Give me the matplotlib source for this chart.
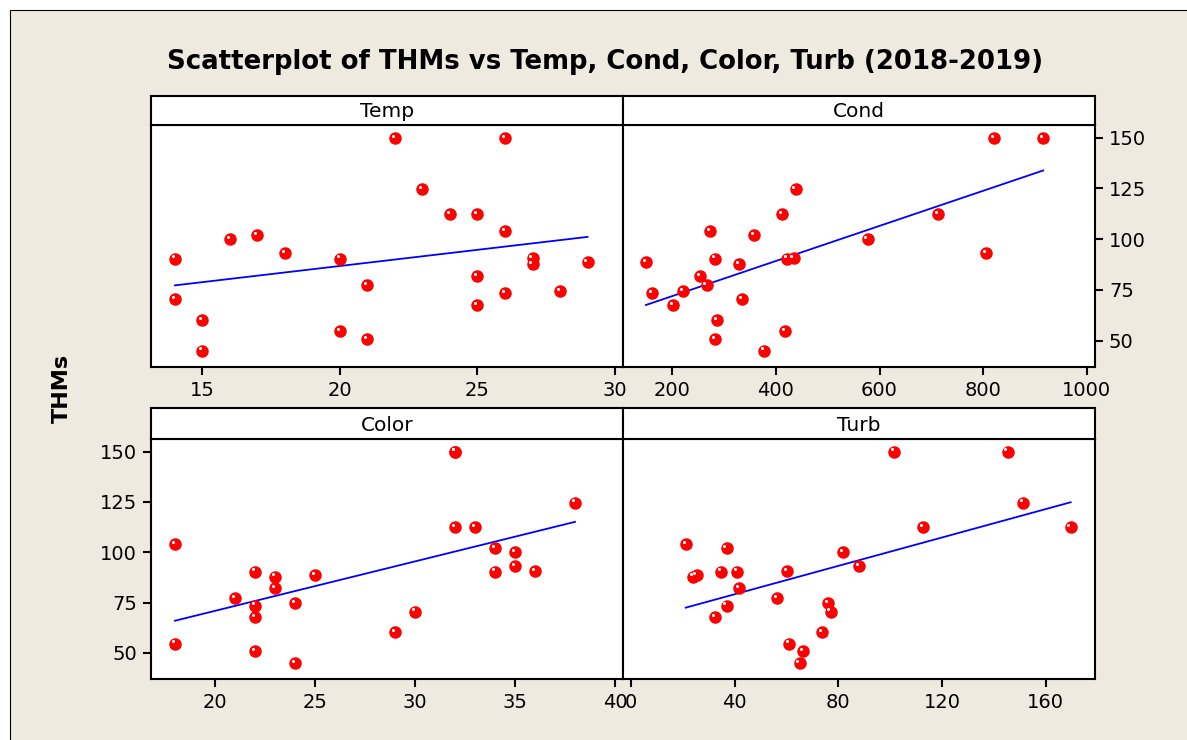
import matplotlib.pyplot as plt
import matplotlib.transforms as mtransforms
from matplotlib.patches import Rectangle
import numpy as np

# THMs and the four predictors
thms = [150.0, 150.0, 124.7, 112.4, 112.4, 103.9, 101.9, 100.1, 93.3, 90.4, 90.4, 90.7,
        88.8, 87.9, 82.0, 77.3, 74.6, 73.5, 70.5, 67.7, 60.3, 54.6, 50.8, 45.1]
temp = [22, 26, 23, 24, 25, 26, 17, 16, 18, 14, 20, 27,
        29, 27, 25, 21, 28, 26, 14, 25, 15, 20, 21, 15]
cond = [821, 916, 438, 412, 713, 273, 358, 577, 805, 282, 421, 434,
        149, 329, 253, 266, 221, 161, 334, 202, 286, 417, 282, 377]
color = [32, 32, 38, 32, 33, 18, 34, 35, 35, 22, 34, 36,
         25, 23, 23, 21, 24, 22, 30, 22, 29, 18, 22, 24]
turb = [101.6, 145.3, 151.4, 112.8, 169.6, 21.1, 36.9, 81.7, 88.1, 34.6, 41.0, 60.3,
        25.3, 23.8, 41.8, 56.2, 76.1, 36.9, 77.0, 32.4, 73.8, 61.1, 66.5, 65.0]

panels = ["Temp", "Cond", "Color", "Turb"]
xdata = [temp, cond, color, turb]
xticks = [[15, 20, 25, 30], [200, 400, 600, 800, 1000], [20, 25, 30, 35, 40], [0, 40, 80, 120, 160]]
xlims = [(13.13, 30.29), (104.8, 1016), (16.8, 40.4), (-3.1, 179)]
yticks = [50, 75, 100, 125, 150]

W, H = 1187, 740
fig = plt.figure(figsize=(W / 100, H / 100), dpi=100)
fig.patch.set_facecolor("white")
fig.patches.append(Rectangle((10 / W, -0.1), 2, 1.1 - 10 / H, transform=fig.transFigure,
                             facecolor="#EEEAE0", edgecolor="black", lw=0.8, zorder=-10))

# pixel boxes: (left, right, strip top, strip bottom, axes bottom)
boxes = [(151, 623, 96, 125, 367), (623, 1095, 96, 125, 367),
         (151, 623, 408, 439, 679), (623, 1095, 408, 439, 679)]

for i, name in enumerate(panels):
    l, r, st, sb, ab = boxes[i]
    ax = fig.add_axes([l / W, 1 - ab / H, (r - l) / W, (ab - sb) / H])
    sax = fig.add_axes([l / W, 1 - sb / H, (r - l) / W, (sb - st) / H])
    sax.set_xticks([])
    sax.set_yticks([])
    for s in sax.spines.values():
        s.set_linewidth(1.5)
    sax.text(0.5, 0.45, name, ha="center", va="center", fontsize=14.5, transform=sax.transAxes)

    x = np.array(xdata[i], dtype=float)
    y = np.array(thms)
    m, b = np.polyfit(x, y, 1)
    xs = np.array([x.min(), x.max()])
    ax.plot(xs, m * xs + b, color="blue", lw=1.3, zorder=2)
    ax.plot(x, y, "o", color="red", ms=8, mec="red", zorder=3)
    # small white glint on each ball, as in the Minitab symbol
    hl = mtransforms.offset_copy(ax.transData, fig=fig, x=-2.2, y=2.2, units="dots")
    ax.plot(x, y, "o", color="white", ms=2.2, mew=0, transform=hl, zorder=4)

    ax.set_xlim(xlims[i])
    ax.set_ylim(37, 156.3)
    ax.set_xticks(xticks[i])
    for s in ax.spines.values():
        s.set_linewidth(1.5)
    ax.tick_params(axis="both", direction="out", length=6, width=1.5, labelsize=14, pad=4)
    if i == 1:
        ax.yaxis.tick_right()
        ax.set_yticks(yticks)
    elif i == 2:
        ax.set_yticks(yticks)
    else:
        ax.set_yticks([])

fig.text(605 / W, 1 - 62 / H, "Scatterplot of THMs vs Temp, Cond, Color, Turb (2018-2019)",
         ha="center", va="center", fontsize=18.7, fontweight="bold")
fig.text(62 / W, 1 - 388 / H, "THMs", ha="center", va="center", rotation=90,
         fontsize=16, fontweight="bold")

fig.savefig("out.png", dpi=100)
